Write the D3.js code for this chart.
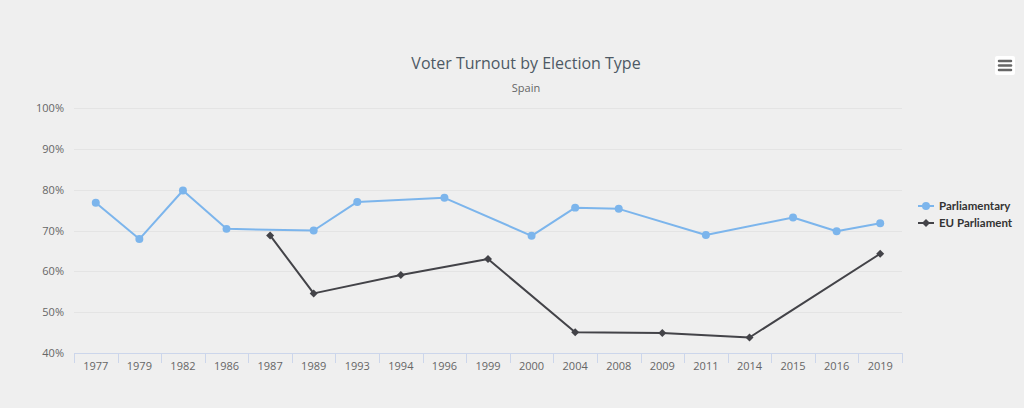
<!DOCTYPE html>
<html>
<head>
<meta charset="utf-8">
<script src="https://cdn.jsdelivr.net/npm/d3@7"></script>
<style>
  html, body { margin: 0; padding: 0; background: #efefef; }
  #chart { width: 1024px; height: 408px; }
  text { font-family: "Lucida Grande", "Open Sans", "DejaVu Sans", sans-serif; }
</style>
</head>
<body>
<div id="chart"></div>
<script>
var years = ['1977', '1979', '1982', '1986', '1987', '1989', '1993', '1994', '1996', '1999',
  '2000', '2004', '2008', '2009', '2011', '2014', '2015', '2016', '2019']

// null = no election of that type that year
var parliamentary = [76.8, 67.9, 79.8, 70.4, null, 70.0, 77.0, null, 78.0, null,
  68.7, 75.6, 75.3, null, 68.9, null, 73.2, 69.8, 71.8]

var euParliament = [null, null, null, null, 68.8, 54.6, null, 59.1, null, 63.0,
  null, 45.1, null, 44.9, null, 43.8, null, null, 64.3]

var yTicks = [40, 50, 60, 70, 80, 90, 100]

var series = [
  { name: 'Parliamentary', values: parliamentary, color: '#7cb5ec', marker: 'circle' },
  { name: 'EU Parliament', values: euParliament, color: '#434348', marker: 'diamond' }
]

var margin = { top: 108, left: 74, right: 122, bottom: 55 }
var width = 1024 - margin.left - margin.right
var height = 408 - margin.top - margin.bottom

var root = d3.select('#chart')
  .append('svg')
  .attr('width', 1024)
  .attr('height', 408)

root.append('text')
  .attr('x', 526)
  .attr('y', 69)
  .attr('text-anchor', 'middle')
  .attr('font-size', 16)
  .attr('fill', '#4d5964')
  .text('Voter Turnout by Election Type')

root.append('text')
  .attr('x', 526)
  .attr('y', 92)
  .attr('text-anchor', 'middle')
  .attr('font-size', 11)
  .attr('fill', '#666')
  .text('Spain')

var svg = root.append('g')
  .attr('transform', 'translate(' + margin.left + ',' + margin.top + ')')

var xScale = d3.scaleBand().domain(years).range([0, width])
var yScale = d3.scaleLinear().domain([40, 100]).range([height, 0])

// grid lines
svg.selectAll('.grid')
  .data(yTicks)
  .enter()
  .append('line')
  .attr('class', 'grid')
  .attr('x1', 0)
  .attr('x2', width)
  .attr('y1', d => Math.round(yScale(d)) + 0.5)
  .attr('y2', d => Math.round(yScale(d)) + 0.5)
  .attr('stroke', '#e4e4e4')

// y labels
svg.selectAll('.ylabel')
  .data(yTicks)
  .enter()
  .append('text')
  .attr('class', 'ylabel')
  .attr('x', -10)
  .attr('y', d => yScale(d))
  .attr('dy', 4)
  .attr('text-anchor', 'end')
  .attr('font-size', 11)
  .attr('fill', '#666')
  .text(d => d + '%')

// x axis
var xAxis = svg.append('g')
  .attr('transform', 'translate(0,' + height + ')')
  .call(d3.axisBottom(xScale).tickSize(0).tickSizeOuter(0))

xAxis.select('.domain').attr('stroke', '#ccd6eb')
xAxis.selectAll('text')
  .attr('font-size', 11)
  .attr('fill', '#666')
  .attr('dy', 14)
  .style('font-family', '"Lucida Grande", "Open Sans", "DejaVu Sans", sans-serif')

// tick marks between categories
xAxis.selectAll('.sep')
  .data(d3.range(years.length + 1))
  .enter()
  .append('line')
  .attr('class', 'sep')
  .attr('x1', d => Math.round(d * xScale.bandwidth()) + 0.5)
  .attr('x2', d => Math.round(d * xScale.bandwidth()) + 0.5)
  .attr('y1', 0)
  .attr('y2', 10)
  .attr('stroke', '#ccd6eb')

var line = d3.line()
  .x(d => xScale(d.year) + xScale.bandwidth() / 2)
  .y(d => yScale(d.value))

function markerPath(type) {
  // circle r=4, diamond is a square turned 45deg with half-diagonal 4
  if (type === 'circle') return d3.symbol().type(d3.symbolCircle).size(50)()
  return 'M0,-4L4,0L0,4L-4,0Z'
}

series.forEach(s => {
  var pts = years.map((y, i) => ({ year: y, value: s.values[i] }))
    .filter(d => d.value !== null)

  svg.append('path')
    .datum(pts)
    .attr('d', line)
    .attr('fill', 'none')
    .attr('stroke', s.color)
    .attr('stroke-width', 2)
    .attr('stroke-linejoin', 'round')

  svg.selectAll('.pt-' + s.marker)
    .data(pts)
    .enter()
    .append('path')
    .attr('class', 'pt-' + s.marker)
    .attr('d', markerPath(s.marker))
    .attr('transform', d => 'translate(' + (xScale(d.year) + xScale.bandwidth() / 2) + ',' + yScale(d.value) + ')')
    .attr('fill', s.color)
})

// legend
var legend = root.append('g').attr('transform', 'translate(918,206)')
series.forEach((s, i) => {
  var item = legend.append('g').attr('transform', 'translate(0,' + i * 17 + ')')
  item.append('line')
    .attr('x1', 0).attr('x2', 16)
    .attr('stroke', s.color)
    .attr('stroke-width', 2)
  item.append('path')
    .attr('d', markerPath(s.marker))
    .attr('transform', 'translate(8,0)')
    .attr('fill', s.color)
  item.append('text')
    .attr('x', 21)
    .attr('dy', 4)
    .attr('font-size', 11.5)
    .attr('font-weight', 'bold')
    .attr('fill', '#333')
    .style('font-family', 'Lato, sans-serif')
    .text(s.name)
})

// menu button
var menu = root.append('g').attr('transform', 'translate(995,56)')
menu.append('rect')
  .attr('width', 20).attr('height', 19)
  .attr('rx', 2)
  .attr('fill', '#fff')
;[5, 9.5, 14].forEach(y => {
  menu.append('line')
    .attr('x1', 4).attr('x2', 16)
    .attr('y1', y).attr('y2', y)
    .attr('stroke', '#666')
    .attr('stroke-width', 2.5)
    .attr('stroke-linecap', 'round')
})
</script>
</body>
</html>
